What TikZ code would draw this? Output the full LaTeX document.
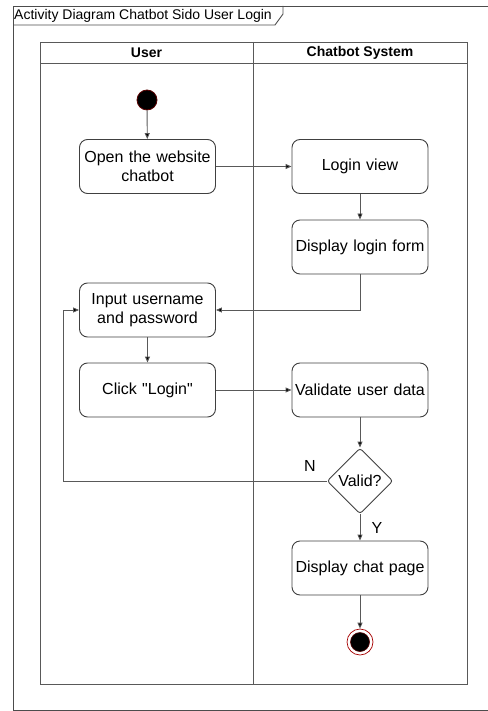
\documentclass[tikz,border=0pt]{standalone}
\usepackage{fontspec}
\setmainfont{Liberation Sans}[Ligatures=TeXOff]
\usetikzlibrary{shapes.geometric,arrows.meta}
\begin{document}
\begin{tikzpicture}[x=1pt,y=-1pt,
  lanecol/.style={draw=black!65},
  action/.style={draw=black!75,line width=0.9pt,rounded corners=8pt,
    minimum width=134pt,minimum height=54pt,inner sep=2pt,align=center,
    text width=132pt,font=\fontsize{16}{19}\selectfont,fill=white},
  decision/.style={draw=black!75,line width=0.9pt,diamond,rounded corners=3pt,
    minimum width=66pt,minimum height=66pt,inner sep=0pt,
    font=\fontsize{16}{19}\selectfont,fill=white},
  flow/.style={draw=black!65,line width=0.9pt,-{Triangle[length=6pt,width=5pt,fill=black]}},
  lbl/.style={font=\fontsize{16}{19}\selectfont,inner sep=0pt},
  hdr/.style={font=\fontsize{14}{16}\selectfont\bfseries,inner sep=0pt}]
\useasboundingbox (0,0) rectangle (487,711);

% outer frame and title tab
\draw[draw=black!70,line width=0.9pt] (490,6) -- (13,6) -- (13,710) -- (490,710);
\draw[draw=black!70,line width=0.9pt] (13,25) -- (275,25) -- (283,14) -- (283,6);
\node[anchor=west,inner sep=0pt,font=\fontsize{14}{16}\selectfont] (title) at (14,16) {Activity Diagram Chatbot Sido User Login};

% swimlanes
\draw[lanecol,line width=0.9pt] (40,42) rectangle (467,684);
\draw[lanecol,line width=0.9pt] (40,63) -- (467,63);
\draw[lanecol,line width=0.9pt] (253,42) -- (253,684);
\node[hdr] (hUser) at (146.5,53) {User};
\node[hdr] (hSys) at (360,53) {Chatbot System};

% nodes
\node[circle,fill=black,draw=red!35!black,line width=0.8pt,minimum size=20pt,inner sep=0pt] (start) at (147,100) {};
\node[action] (open) at (147.5,166.5) {Open the website\\chatbot};
\node[action] (lview) at (360,166.5) {Login view};
\node[action] (lform) at (360,247) {Display login form};
\node[action] (input) at (147.5,310) {Input username\\and password};
\node[action] (click) at (147.5,390) {Click "Login"};
\node[action] (valid) at (360,390) {Validate user data};
\node[decision] (dec) at (360,481) {Valid?};
\node[action] (chat) at (360,568) {Display chat page};
\node[circle,draw=red!65!black,line width=0.7pt,minimum size=26pt,inner sep=0pt] (endo) at (360,642) {};
\node[circle,fill=black,draw=red!35!black,line width=0.6pt,minimum size=19pt,inner sep=0pt] (endi) at (360,642) {};

% connectors
\coordinate (c1) at (360,310);
\coordinate (c2) at (63,481);
\coordinate (c3) at (63,310);
\draw[flow] (start) -- (open);
\draw[flow] (open) -- (lview);
\draw[flow] (lview) -- (lform);
\draw[flow] (lform.south) -- (c1) -- (input.east);
\draw[flow] (input) -- (click);
\draw[flow] (click) -- (valid);
\draw[flow] (valid) -- (dec);
\draw[flow] (dec.west) -- (c2) -- (c3) -- (input.west);
\draw[flow] (dec) -- (chat);
\draw[flow] (chat) -- (endo);

% guard labels
\node[lbl] (nlbl) at (310,466) {N};
\node[lbl] (ylbl) at (377,528) {Y};
\end{tikzpicture}
\end{document}
